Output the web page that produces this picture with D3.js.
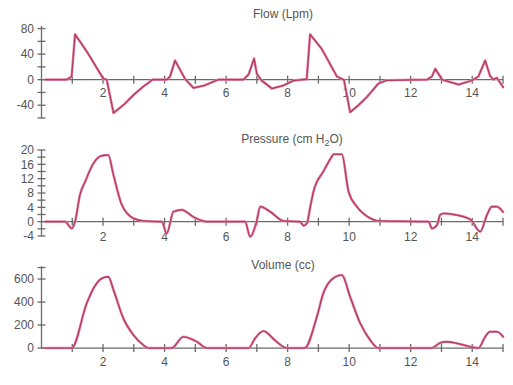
<!DOCTYPE html>
<html>
<head>
<meta charset="utf-8">
<script src="https://cdn.jsdelivr.net/npm/d3@7"></script>
<style>
  body { margin: 0; background: #fff; }
  text { font-family: "Liberation Sans", Arial, sans-serif; fill: #555; }
</style>
</head>
<body>
<svg id="chart" width="513" height="385"></svg>
<script>
// time in seconds
const flowT = [0.1, 0.82, 0.98, 1.09, 1.5, 2.01, 2.12, 2.34, 2.7, 2.99, 3.3, 3.53, 3.6,
  4.07, 4.18, 4.34, 4.67, 4.94, 5.3, 5.59, 5.75, 6.56, 6.73, 6.91, 7.0, 7.16, 7.49, 7.87,
  8.19, 8.57, 8.62, 8.73, 9.11, 9.6, 9.8, 9.83, 10.03, 10.3, 10.58, 10.95, 11.22, 12.53,
  12.69, 12.8, 13.02, 13.3, 13.56, 13.99, 14.2, 14.42, 14.58, 14.69, 14.8, 15.02];
const flowV = [0, 0, 5, 71, 42, 1.5, 0, -52, -38, -24, -11, -3, 0,
  0, 5, 30, 1, -13, -9, -3, 0, 0, 8, 33, 9, -1.5, -14, -9,
  -1.5, 0.5, 0.5, 71, 48, 5, 0.5, 0, -51, -40, -27, -6, -1, 0,
  5, 17, 0, -4, -7.7, -1.3, 5, 30, 6, 0, 3, -13];

const presT = [0.1, 0.76, 0.99, 1.09, 1.25, 1.42, 1.69, 1.96, 2.17, 2.34, 2.61, 2.99, 3.31, 3.9,
  3.91, 4.07, 4.29, 4.56, 4.94, 5.37, 6.62, 6.78, 6.99, 7.11, 7.43, 7.87, 8.4, 8.52, 8.63,
  8.73, 8.84, 9.16, 9.44, 9.49, 9.76, 9.98, 10.25, 10.68, 10.95, 12.58, 12.69, 12.85, 12.96,
  13.07, 13.4, 13.94, 14.26, 14.48, 14.64, 14.8, 15.02];
const presV = [0, 0, -1.9, 0, 7.5, 11.2, 16.3, 18.4, 18.6, 13, 4.7, 0.9, 0.2, 0,
  0, -3.3, 2.8, 3.3, 1.3, 0, 0, -4.2, 0, 4.2, 2.8, 0.2, 0, -1.1, -0.4,
  3.9, 8.4, 14, 18.2, 18.8, 18.8, 8.4, 4.2, 1.0, 0.2, 0, -1.9, -1, 1.9,
  2.3, 2, 0.6, -2.8, 1.9, 4.2, 4.2, 2.5];

const volT = [0.1, 0.98, 1.47, 1.69, 1.96, 2.17, 2.34, 2.66, 2.99, 3.31, 3.47, 4.23, 4.61, 5.05,
  5.37, 6.73, 6.94, 7.21, 7.64, 7.97, 8.55, 8.95, 9.16, 9.44, 9.76, 10.03, 10.36, 10.68,
  10.95, 12.69, 12.96, 13.18, 13.72, 14.2, 14.42, 14.58, 14.8, 15.02];
const volV = [0, 0, 389, 519, 606, 620, 505, 258, 113, 26, 0, 0, 98, 55,
  0, 0, 84, 148, 55, 0, 0, 272, 476, 598, 635, 446, 215, 70,
  0, 0, 46, 55, 26, 0, 98, 142, 142, 93];

const xTicks = d3.range(1, 16);
const xLabels = [2, 4, 6, 8, 10, 12, 14];

const panels = [
  { title: 'Flow (Lpm)', t: flowT, v: flowV, domain: [-60, 84], range: [118, 26],
    ticks: d3.range(-60, 81, 20), labels: [80, 40, 0, -40], curve: d3.curveLinear, labelY: 97, titleY: 18 },
  { title: 'Pressure (cm H2O)', t: presT, v: presV, domain: [-4, 20], range: [236, 150],
    ticks: d3.range(-4, 21, 2), labels: [20, 16, 12, 8, 4, 0, -4], curve: d3.curveMonotoneX, labelY: 241, titleY: 143 },
  { title: 'Volume (cc)', t: volT, v: volV, domain: [-10, 710], range: [349.2, 266.4],
    ticks: [0, 200, 400, 600, 700], labels: [600, 400, 200, 0], curve: d3.curveMonotoneX, labelY: 366, titleY: 269 }
];

const svg = d3.select('#chart');
const x = d3.scaleLinear().domain([0, 15]).range([41.5, 503]);
const axisColor = '#6a6a6a';

panels.forEach(p => {
  const y = d3.scaleLinear().domain(p.domain).range(p.range);
  const g = svg.append('g');
  const y0 = y(0);

  // x axis line with crossing ticks
  g.append('line')
    .attr('x1', x(0)).attr('x2', x(15))
    .attr('y1', y0).attr('y2', y0)
    .attr('stroke', axisColor).attr('stroke-width', 1.3);
  g.selectAll('line.xt')
    .data(xTicks)
    .join('line')
    .attr('class', 'xt')
    .attr('x1', d => x(d)).attr('x2', d => x(d))
    .attr('y1', y0 - 4).attr('y2', y0 + 4)
    .attr('stroke', axisColor).attr('stroke-width', 1.3);
  g.selectAll('text.xl')
    .data(xLabels)
    .join('text')
    .attr('class', 'xl')
    .attr('x', d => x(d))
    .attr('y', p.labelY)
    .attr('text-anchor', 'middle')
    .attr('font-size', 12)
    .text(d => d);

  // y axis
  g.append('line')
    .attr('x1', x(0)).attr('x2', x(0))
    .attr('y1', y(p.domain[0] < p.ticks[0] ? p.ticks[0] : p.domain[0]))
    .attr('y2', p.range[1])
    .attr('stroke', axisColor).attr('stroke-width', 1.3);
  g.selectAll('line.yt')
    .data(p.ticks)
    .join('line')
    .attr('class', 'yt')
    .attr('x1', x(0) - 4).attr('x2', x(0) + 4)
    .attr('y1', d => y(d)).attr('y2', d => y(d))
    .attr('stroke', axisColor).attr('stroke-width', 1.3);
  g.selectAll('text.yl')
    .data(p.labels)
    .join('text')
    .attr('class', 'yl')
    .attr('x', 34)
    .attr('y', d => y(d))
    .attr('dy', '0.35em')
    .attr('text-anchor', 'end')
    .attr('font-size', 12)
    .text(d => d);

  // title
  const title = g.append('text')
    .attr('x', 283)
    .attr('y', p.titleY)
    .attr('text-anchor', 'middle')
    .attr('font-size', 12);
  if (p.title === 'Pressure (cm H2O)') {
    title.attr('x', 292);
    title.append('tspan').text('Pressure (cm H');
    title.append('tspan').attr('font-size', 9).attr('dy', 3).text('2');
    title.append('tspan').attr('dy', -3).text('O)');
  } else {
    title.text(p.title);
  }

  // trace
  const line = d3.line()
    .curve(p.curve)
    .x(i => x(p.t[i]))
    .y(i => y(p.v[i]));
  const I = d3.range(p.t.length);
  g.append('path')
    .attr('fill', 'none')
    .attr('stroke', '#e88aa6')
    .attr('stroke-width', 2.6)
    .attr('stroke-linejoin', 'round')
    .attr('d', line(I));
  g.append('path')
    .attr('fill', 'none')
    .attr('stroke', '#b03c64')
    .attr('stroke-width', 1.3)
    .attr('stroke-linejoin', 'round')
    .attr('d', line(I));
});
</script>
</body>
</html>
